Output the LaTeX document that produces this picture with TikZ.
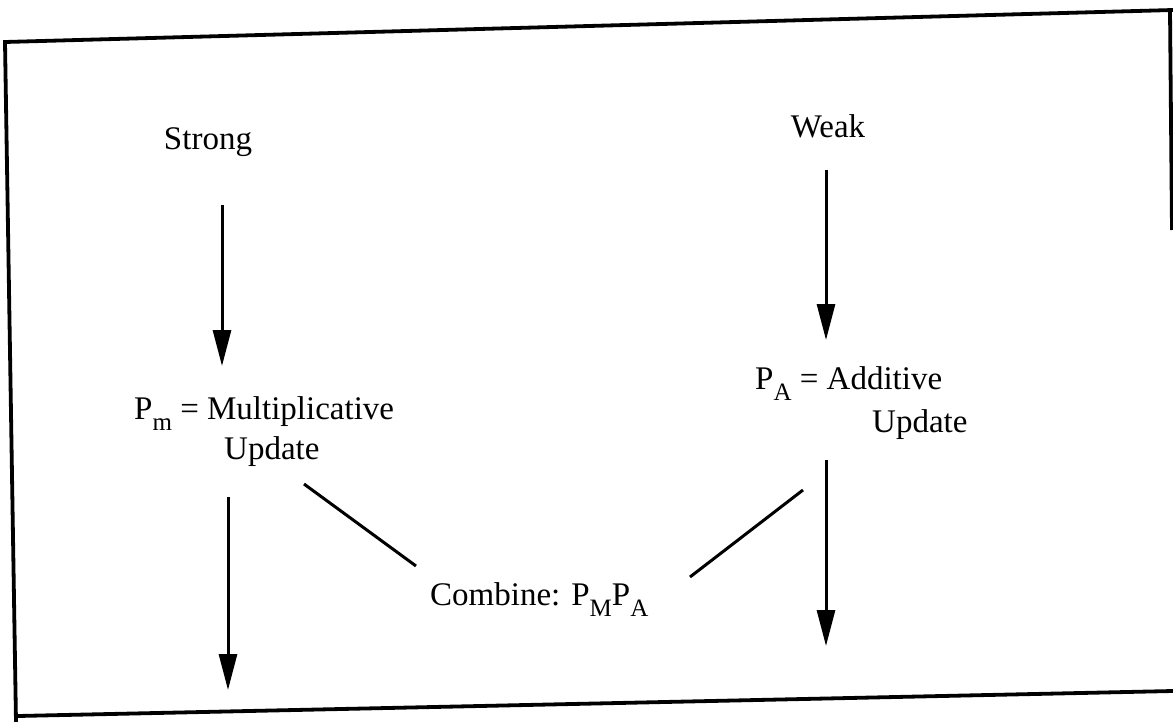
\documentclass[tikz,border=0pt]{standalone}
\usepackage{fontspec}
\setmainfont{Liberation Serif}
\usetikzlibrary{arrows.meta}
\newcommand{\lowsub}[1]{\raisebox{-0.36em}{\fontsize{25}{25}\selectfont #1}}
\tikzset{
  lbl/.style={font=\fontsize{33}{36}\selectfont, inner sep=0pt, anchor=base west},
  lblc/.style={font=\fontsize{33}{36}\selectfont, inner sep=0pt, anchor=base},
  arr/.style={line width=3pt, -{Triangle[length=36pt,width=18pt]}},
  link/.style={line width=3pt},
  frame/.style={line width=3.8pt}
}
\begin{document}
\begin{tikzpicture}[x=1pt,y=-1pt]
\useasboundingbox[fill=white] (0,0) rectangle (1173,722);
% frame (scanned, slightly skewed)
\coordinate (f1) at (1173,10);
\coordinate (f2) at (5,42);
\coordinate (f3) at (16,722);
\coordinate (f4) at (18,716);
\coordinate (f5) at (1173,691);
\coordinate (f6) at (1170,10);
\coordinate (f7) at (1172,230);
\draw[frame] (f1) -- (f2) -- (f3);
\draw[frame] (f4) -- (f5);
\draw[frame] (f6) -- (f7);
% labels
\node[lblc] (strong) at (208,150) {Strong};
\node[lblc] (weak) at (828,138) {Weak};
\node[lbl] (pm) at (134,419) {P\lowsub{m} = Multiplicative};
\node[lbl] (pmu) at (224,459) {Update};
\node[lbl] (pa) at (755,389) {P\lowsub{A} = Additive};
\node[lbl] (pau) at (872,432) {Update};
\node[lbl] (comb) at (430,605) {Combine: P\lowsub{M}P\lowsub{A}};
% connector ends
\coordinate (a1s) at (222,205);
\coordinate (a1e) at (222,366);
\coordinate (a2s) at (228,497);
\coordinate (a2e) at (228,690);
\coordinate (a3s) at (826,170);
\coordinate (a3e) at (826,340);
\coordinate (a4s) at (826,460);
\coordinate (a4e) at (826,646);
\coordinate (l1s) at (304,484);
\coordinate (l1e) at (416,566);
\coordinate (l2s) at (803,490);
\coordinate (l2e) at (690,577);
\draw[arr] (a1s) -- (a1e);
\draw[arr] (a2s) -- (a2e);
\draw[arr] (a3s) -- (a3e);
\draw[arr] (a4s) -- (a4e);
\draw[link] (l1s) -- (l1e);
\draw[link] (l2s) -- (l2e);
\end{tikzpicture}
\end{document}
